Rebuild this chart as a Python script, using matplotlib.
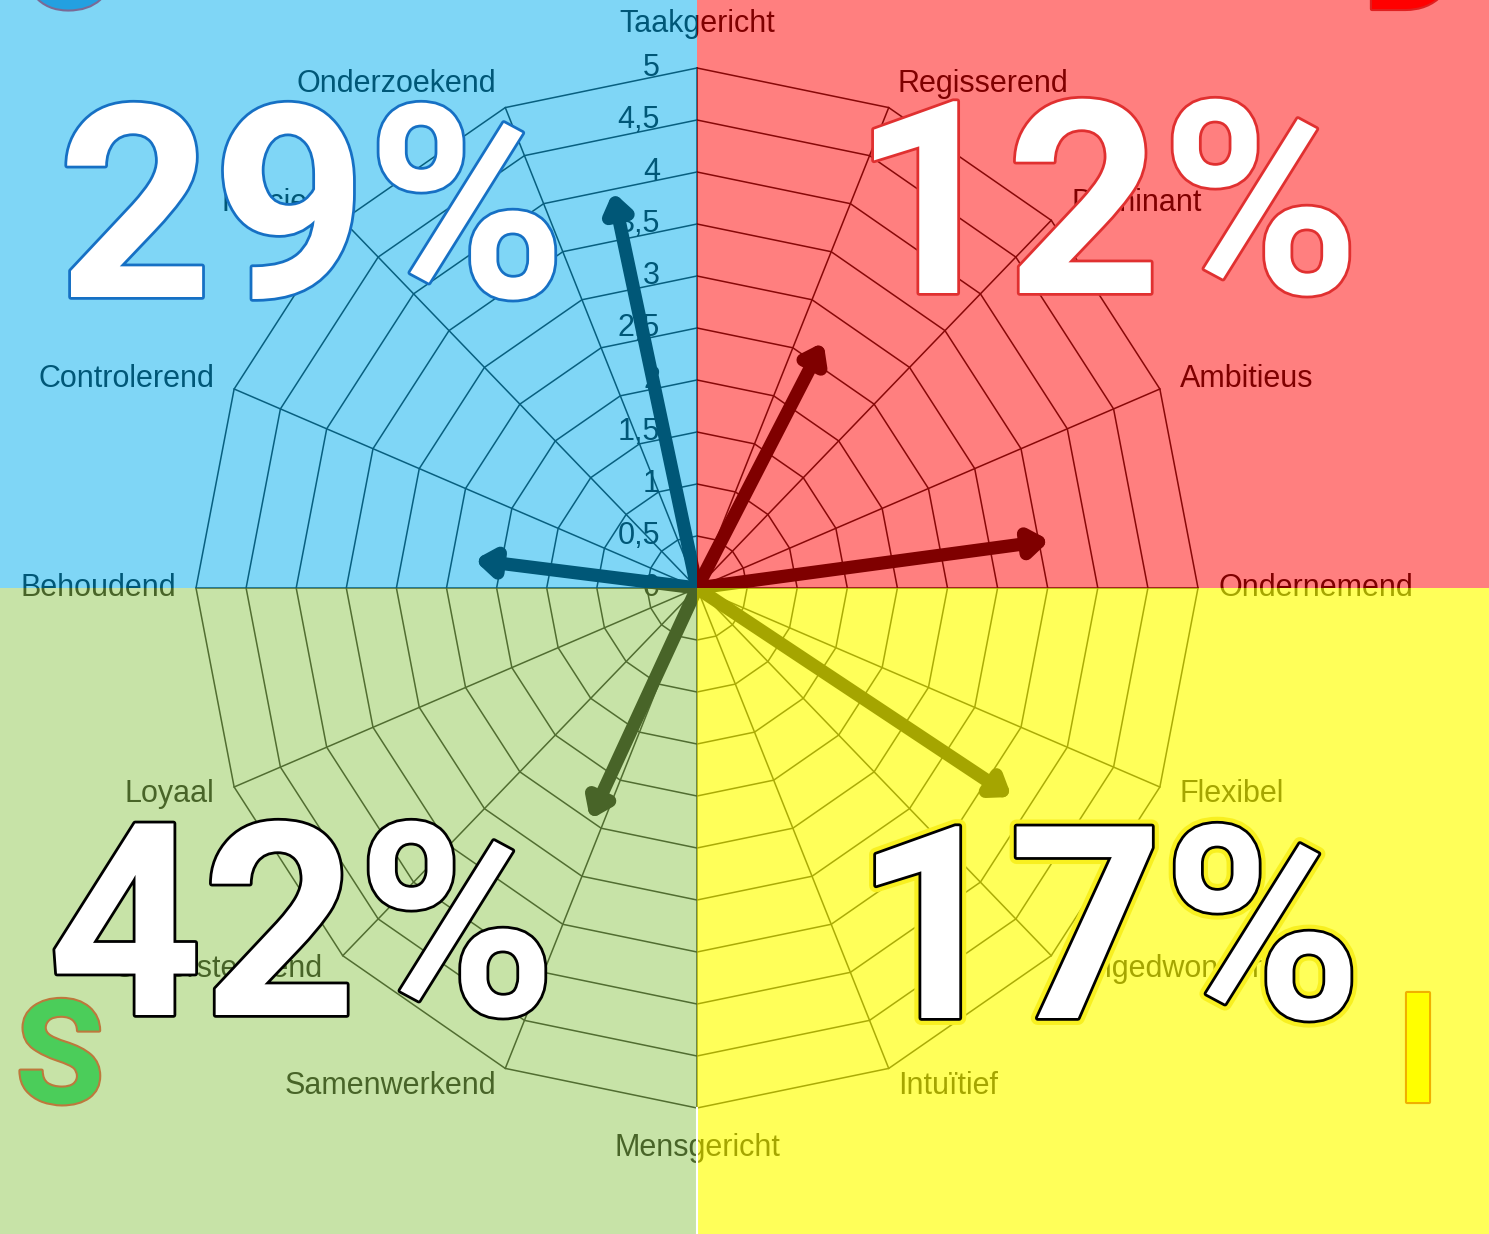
import numpy as np
import matplotlib
matplotlib.use("Agg")
import matplotlib.pyplot as plt
from matplotlib.patches import Rectangle
import matplotlib.patheffects as pe

# radar axes, clockwise from the top
axis_labels = ["Taakgericht", "Regisserend", "Dominant", "Ambitieus", "Ondernemend",
               "Flexibel", "Ongedwongen", "Intuïtief", "Mensgericht", "Samenwerkend",
               "Ondersteunend", "Loyaal", "Behoudend", "Controlerend", "Precies",
               "Onderzoekend"]
ring_values = [0.5, 1, 1.5, 2, 2.5, 3, 3.5, 4, 4.5, 5]
tick_values = [0, 0.5, 1, 1.5, 2, 2.5, 3, 3.5, 4, 4.5, 5]
tick_labels = ["0", "0,5", "1", "1,5", "2", "2,5", "3", "3,5", "4", "4,5", "5"]

# resulting vectors (length on the 0-5 scale, direction in degrees)
arrow_lengths = [3.90, 2.24, 2.68, 3.55, 3.73, 2.47]
arrow_angles = [102.4, 173.1, 61.9, 7.4, -32.6, -115.6]

percentages = ["29%", "12%", "42%", "17%"]

W, H = 1489, 1234
cx, cy = 697, 588          # centre in pixels
sx, sy = 501 / 5, 520 / 5  # pixels per unit

fig = plt.figure(figsize=(W / 100, H / 100), dpi=100)
ax = fig.add_axes([0, 0, 1, 1])
xmin, xmax = -cx / sx, (W - cx) / sx
ymin, ymax = -(H - cy) / sy, cy / sy
ax.set_xlim(xmin, xmax)
ax.set_ylim(ymin, ymax)
ax.axis("off")

n = len(axis_labels)
theta = np.deg2rad(90 - np.arange(n) * 360 / n)
ct, st = np.cos(theta), np.sin(theta)

# grid
for r in ring_values:
    ax.plot(np.append(r * ct, r * ct[0]), np.append(r * st, r * st[0]),
            color="#111111", lw=1.1, zorder=1)
for c, s in zip(ct, st):
    ax.plot([0, 5 * c], [0, 5 * s], color="#111111", lw=1.1, zorder=1)

# axis labels
fs = 22
for lab, c, s in zip(axis_labels, ct, st):
    x, y = 5 * c, 5 * s
    if abs(c) < 1e-6:
        if s > 0:
            ax.text(x, y + 29 / sy, lab, ha="center", va="bottom", fontsize=fs,
                    family="Liberation Sans", color="black", zorder=2)
        else:
            ax.text(x, y - 40 / sy, lab, ha="center", va="center", fontsize=fs,
                    family="Liberation Sans", color="black", zorder=2)
        continue
    dx = (9 if abs(s) > 0.9 else 20) * np.sign(c)
    dy = 25 * s if s > 0 else 19 * s
    ax.text(x + dx / sx, y + dy / sy, lab, ha="left" if c > 0 else "right",
            va="center", fontsize=fs, family="Liberation Sans", color="black",
            zorder=2)

# scale labels
for v, t in zip(tick_values, tick_labels):
    ax.text(-37 / sx, v, t, ha="right", va="center", fontsize=fs,
            family="Liberation Sans", color="black", zorder=2)

# arrows
for L, a in zip(arrow_lengths, arrow_angles):
    ar = np.deg2rad(a)
    ax.annotate("", xy=(L * np.cos(ar), L * np.sin(ar)), xytext=(0, 0),
                arrowprops=dict(arrowstyle="-|>,head_length=0.5,head_width=0.36",
                                lw=9.5, color="black", mutation_scale=20,
                                shrinkA=0, shrinkB=0), zorder=3)

# coloured quadrants laid over the chart
quads = [
    ((xmin, 0), -xmin, ymax, "#00aeee", 0.5),
    ((0, 0), xmax, ymax, "#ff0000", 0.5),
    ((xmin, ymin), -xmin, -ymin, "#91c951", 0.5),
    ((0, ymin), xmax, -ymin, "#ffff00", 0.65),
]
for xy, w, h, col, al in quads:
    ax.add_patch(Rectangle(xy, w, h, facecolor=col, alpha=al, edgecolor="none",
                           zorder=5))
ax.plot([0, 0], [ymin, -5], color="white", lw=1.5, zorder=6)

# big percentages
pct_font = dict(family="Roboto", weight="bold", fontsize=194, color="white",
                transform=ax.transAxes, zorder=10, ha="center", va="baseline")
pct_pos = [(312, 297), (1106, 293), (302, 1015), (1108, 1018)]
pct_edge = ["#1670c4", "#e03030", "black", "black"]
for txt, (px, py), ec in zip(percentages, pct_pos, pct_edge):
    effects = [pe.withStroke(linewidth=4, foreground=ec)]
    if txt == "17%":
        effects = [pe.withStroke(linewidth=10, foreground="#f8f020"),
                   pe.withStroke(linewidth=4, foreground=ec)]
    ax.text(px / W, 1 - py / H, txt, path_effects=effects, **pct_font)

# DISC letters
let_font = dict(family="Roboto", weight="bold", fontsize=110,
                transform=ax.transAxes, zorder=10, ha="center", va="baseline")
ax.text(67 / W, 1 - 8 / H, "C", color="#23a0e1",
        path_effects=[pe.withStroke(linewidth=3, foreground="#7a6a96")], **let_font)
ax.text(1412 / W, 1 - 9 / H, "D", color="#ff0000",
        path_effects=[pe.withStroke(linewidth=3, foreground="#e02020")], **let_font)
ax.text(1418 / W, 1 - 1102 / H, "I", color="#ffff00",
        path_effects=[pe.withStroke(linewidth=3, foreground="#f0b000")], **let_font)
ax.text(60 / W, 1 - 1103 / H, "S", color="#4bcd5a", family="Roboto",
        weight="bold", fontsize=104, transform=ax.transAxes, zorder=10,
        ha="center", va="baseline",
        path_effects=[pe.withStroke(linewidth=3, foreground="#be783c")])

fig.savefig("out.png", dpi=100)
